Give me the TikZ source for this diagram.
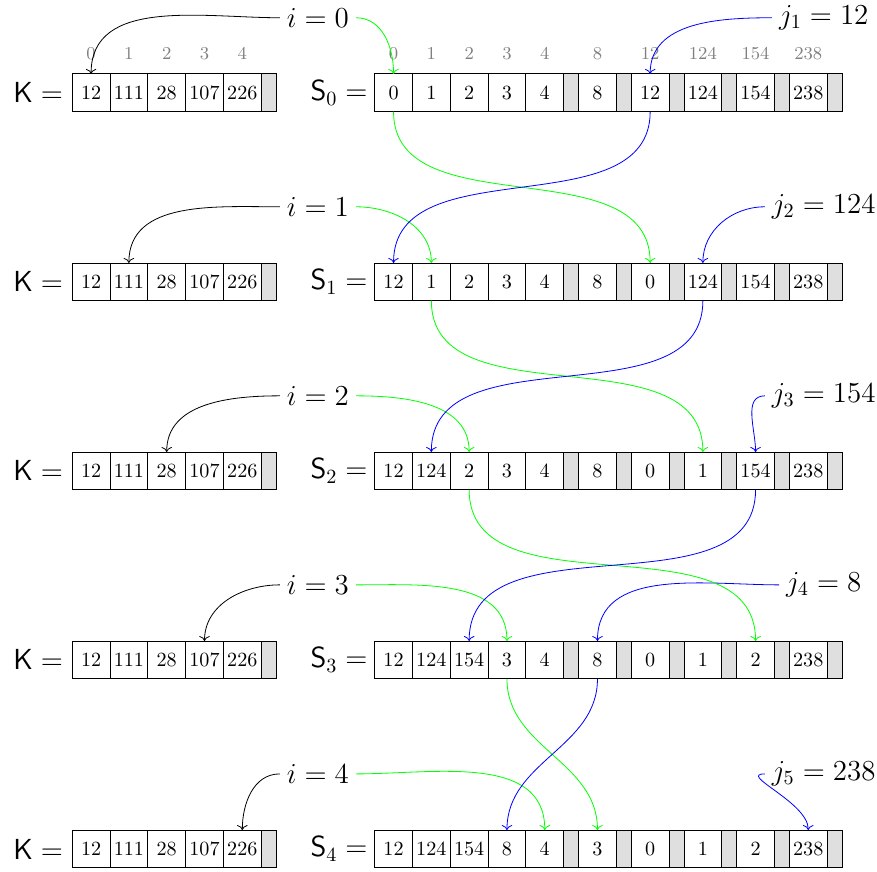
\documentclass[tikz,border=0pt]{standalone}
\usepackage{tikz}
\usetikzlibrary{arrows.meta, positioning}
\usepackage{xcolor}

\begin{document}
\begin{tikzpicture}[
    node distance=0pt,
    cell/.style={rectangle, draw, minimum width=0.66cm, minimum height=0.66cm, inner sep=0pt, outer sep=0pt, font=\normalsize},
    gapcell/.style={cell, minimum width=0.26cm, fill=gray!25},
    idx/.style={font=\small, text=gray},
    lbl/.style={font=\Large},
    karrow/.style={->, black},
    iarrow/.style={->, green},
    jarrow/.style={->, blue}
]
\useasboundingbox (0,0) rectangle (15.31,-15.21);

% key row and state rows
\foreach \r/\vals in {0/{0,1,2,3,4,8,12,124,154,238},
                      1/{12,1,2,3,4,8,0,124,154,238},
                      2/{12,124,2,3,4,8,0,1,154,238},
                      3/{12,124,154,3,4,8,0,1,2,238},
                      4/{12,124,154,8,4,3,0,1,2,238}} {
  \pgfmathsetmacro\y{-1.62-3.3*\r}
  \foreach \v [count=\c from 0] in {12,111,28,107,226}
    \node[cell] (k\r-\c) at (1.59+0.66*\c,\y) {\v};
  \node[gapcell, right=of k\r-4] (kg\r) {};
  \node[lbl, left=1pt of k\r-0] (kl\r) {$\mathsf{K} =$};
  \foreach \v [count=\c from 0] in \vals {
    \pgfmathsetmacro\x{6.87+0.66*\c+0.26*max(\c-4,0)}
    \node[cell] (s\r-\c) at (\x,\y) {\v};
    \ifnum\c>3 \node[gapcell, right=of s\r-\c] (sg\r-\c) {}; \fi
  }
  \node[lbl, left=0pt of s\r-0] (sl\r) {$\mathsf{S}_\r =$};
}

% indices
\foreach \c in {0,...,4}
  \node[idx, above=0.12cm of k0-\c] (kx\c) {\c};
\foreach \v [count=\c from 0] in {0,1,2,3,4,8,12,124,154,238}
  \node[idx, above=0.12cm of s0-\c] (sx\c) {\v};

% i and j pointers
\foreach \r/\j/\jv in {0/6/12, 1/7/124, 2/8/154, 3/5/8, 4/9/238} {
  \pgfmathsetmacro\y{-0.31-3.3*\r}
  \pgfmathtruncatemacro\n{\r+1}
  \node[lbl] (i\r) at (5.55,\y) {$i = \r$};
  \node[lbl] (j\r) at (14.38,\y) {$j_{\n} = \jv$};
  \draw[karrow] (i\r.west) to[out=180, in=90] (k\r-\r.north);
  \draw[iarrow] (i\r.east) to[out=0, in=90] (s\r-\r.north);
  \draw[jarrow] (j\r.west) to[out=180, in=90] (s\r-\j.north);
}

% swaps
\foreach \r/\j in {0/6, 1/7, 2/8, 3/5} {
  \pgfmathtruncatemacro\n{\r+1}
  \draw[iarrow] (s\r-\r.south) to[out=-90, in=90] (s\n-\j.north);
  \draw[jarrow] (s\r-\j.south) to[out=-90, in=90] (s\n-\r.north);
}
\end{tikzpicture}
\end{document}
